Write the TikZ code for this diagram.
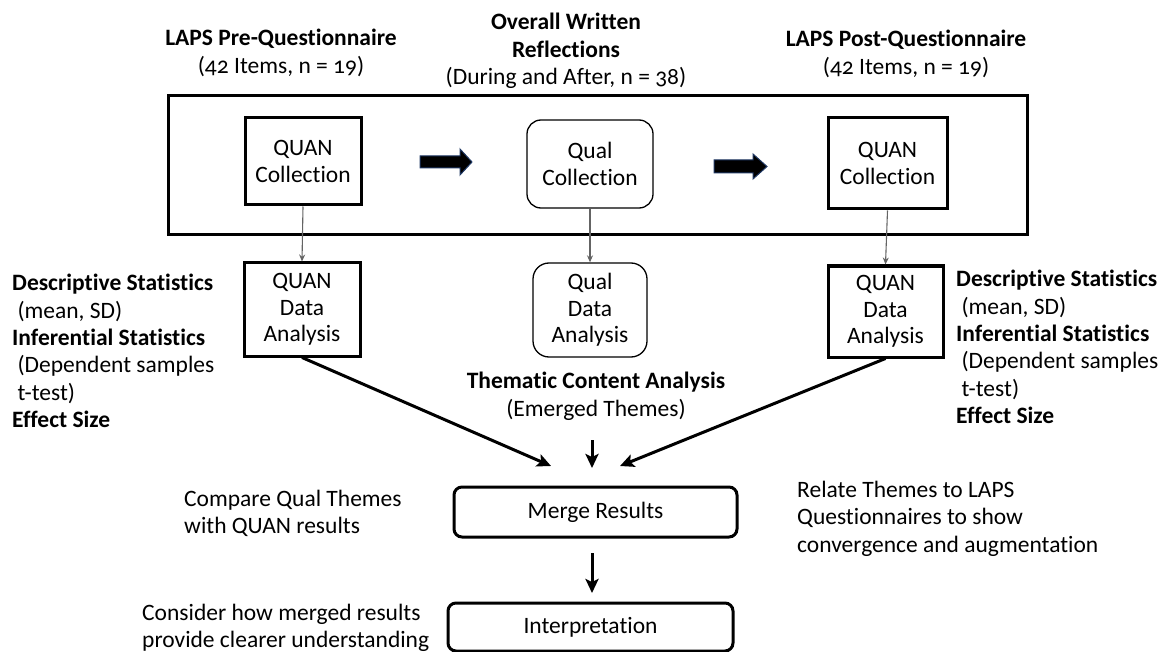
\documentclass[tikz,border=0pt]{standalone}
\usepackage{fontspec}
\setmainfont{Carlito}[Numbers=OldStyle, Ligatures=NoCommon]
\usetikzlibrary{arrows.meta}
\definecolor{navy}{RGB}{31,56,100}
\definecolor{conngray}{RGB}{100,100,100}
\begin{document}
\begin{tikzpicture}[x=1pt,y=-1pt,
  txt/.style={font=\fontsize{23.5}{27.4}\selectfont, inner sep=0pt},
  boxtxt/.style={font=\fontsize{23.5}{26.5}\selectfont, inner sep=0pt, align=center},
  quanbox/.style={boxtxt, draw, line width=3pt},
  qualbox/.style={boxtxt, draw, line width=1.3pt, rounded corners=14pt},
  mergebox/.style={boxtxt, draw, line width=3pt, rounded corners=8pt},
  thinconn/.style={draw=conngray, line width=1.1pt, -{Stealth[length=7pt,width=6pt]}},
  thickconn/.style={draw, line width=3pt, -{Stealth[length=14pt,width=13pt,inset=3pt]}},
  blockarrow/.style={fill=black, draw=navy, line width=1pt},
]
\useasboundingbox (0,0) rectangle (1169,652);

% top titles
\node[txt, align=center, anchor=north] (t1) at (281,29) {\textbf{LAPS Pre-Questionnaire}\\(42 Items, n = 19)};
\node[txt, align=center, anchor=north] (t2) at (566,13) {\textbf{Overall Written}\\\textbf{Reflections}\\(During and After, n = 38)};
\node[txt, align=center, anchor=north] (t3) at (906,30) {\textbf{LAPS Post-Questionnaire}\\(42 Items, n = 19)};

% big frame
\node[draw, line width=3pt, minimum width=859pt, minimum height=139pt, inner sep=0pt] (frame) at (597.5,165.5) {};

% collection boxes
\node[quanbox, minimum width=116pt, minimum height=87pt] (qc1) at (303,161.5) {QUAN\\Collection};
\node[qualbox, minimum width=126pt, minimum height=88pt] (qc2) at (590,164) {Qual\\Collection};
\node[quanbox, minimum width=119pt, minimum height=91pt] (qc3) at (887.5,163.5) {QUAN\\Collection};

% block arrows
\draw[blockarrow] (420,156) -- (460,156) -- (460,149) -- (472,162) -- (460,175) -- (460,168) -- (420,168) -- cycle;
\draw[blockarrow] (714,160) -- (753,160) -- (753,154) -- (767,166.5) -- (753,179) -- (753,173) -- (714,173) -- cycle;

% analysis boxes
\node[quanbox, minimum width=116pt, minimum height=93pt] (qda1) at (302,309.5) {QUAN\\Data\\Analysis};
\node[qualbox, minimum width=114pt, minimum height=94pt, rounded corners=16pt] (qda2) at (590,310) {Qual\\Data\\Analysis};
\node[quanbox, minimum width=115pt, minimum height=91pt] (qda3) at (885.5,311.5) {QUAN\\Data\\Analysis};

\draw[thinconn] (qc1.south) -- (qda1.north);
\draw[thinconn] (qc2.south) -- (qda2.north);
\draw[thinconn] (qc3.south) -- (qda3.north);

% side texts
\node[txt, align=left, anchor=north west] (ls) at (12,274) {\textbf{Descriptive Statistics}\\\ (mean, SD)\\\textbf{Inferential Statistics}\\\ (Dependent samples\\\ t-test)\\\textbf{Effect Size}};
\node[txt, align=left, anchor=north west] (rs) at (956,270) {\textbf{Descriptive Statistics}\\\ (mean, SD)\\\textbf{Inferential Statistics}\\\ (Dependent samples\\\ t-test)\\\textbf{Effect Size}};

\node[txt, align=center, anchor=north] (tca) at (596,372) {\textbf{Thematic Content Analysis}\\(Emerged Themes)};

% merge
\node[mergebox, minimum width=283pt, minimum height=50pt] (merge) at (595.5,512) {Merge Results};
\node[mergebox, minimum width=285pt, minimum height=48pt] (interp) at (590.5,627) {Interpretation};

\coordinate (ml) at (551,466);
\coordinate (mr) at (620,466);
\coordinate (mcs) at (592,440);
\coordinate (mce) at (592,468);
\coordinate (is) at (592,553);
\coordinate (ie) at (592,593);

\draw[thickconn] (qda1.south) -- (ml);
\draw[thickconn] (qda3.south) -- (mr);
\draw[thickconn] (mcs) -- (mce);
\draw[thickconn] (is) -- (ie);

\node[txt, align=left, anchor=north west] (cmp) at (184,490) {Compare Qual Themes\\with QUAN results};
\node[txt, align=left, anchor=north west] (rel) at (797,481) {Relate Themes to LAPS\\Questionnaires to show\\convergence and augmentation};
\node[txt, align=left, anchor=north west] (con) at (142,604) {Consider how merged results\\provide clearer understanding};
\end{tikzpicture}
\end{document}
